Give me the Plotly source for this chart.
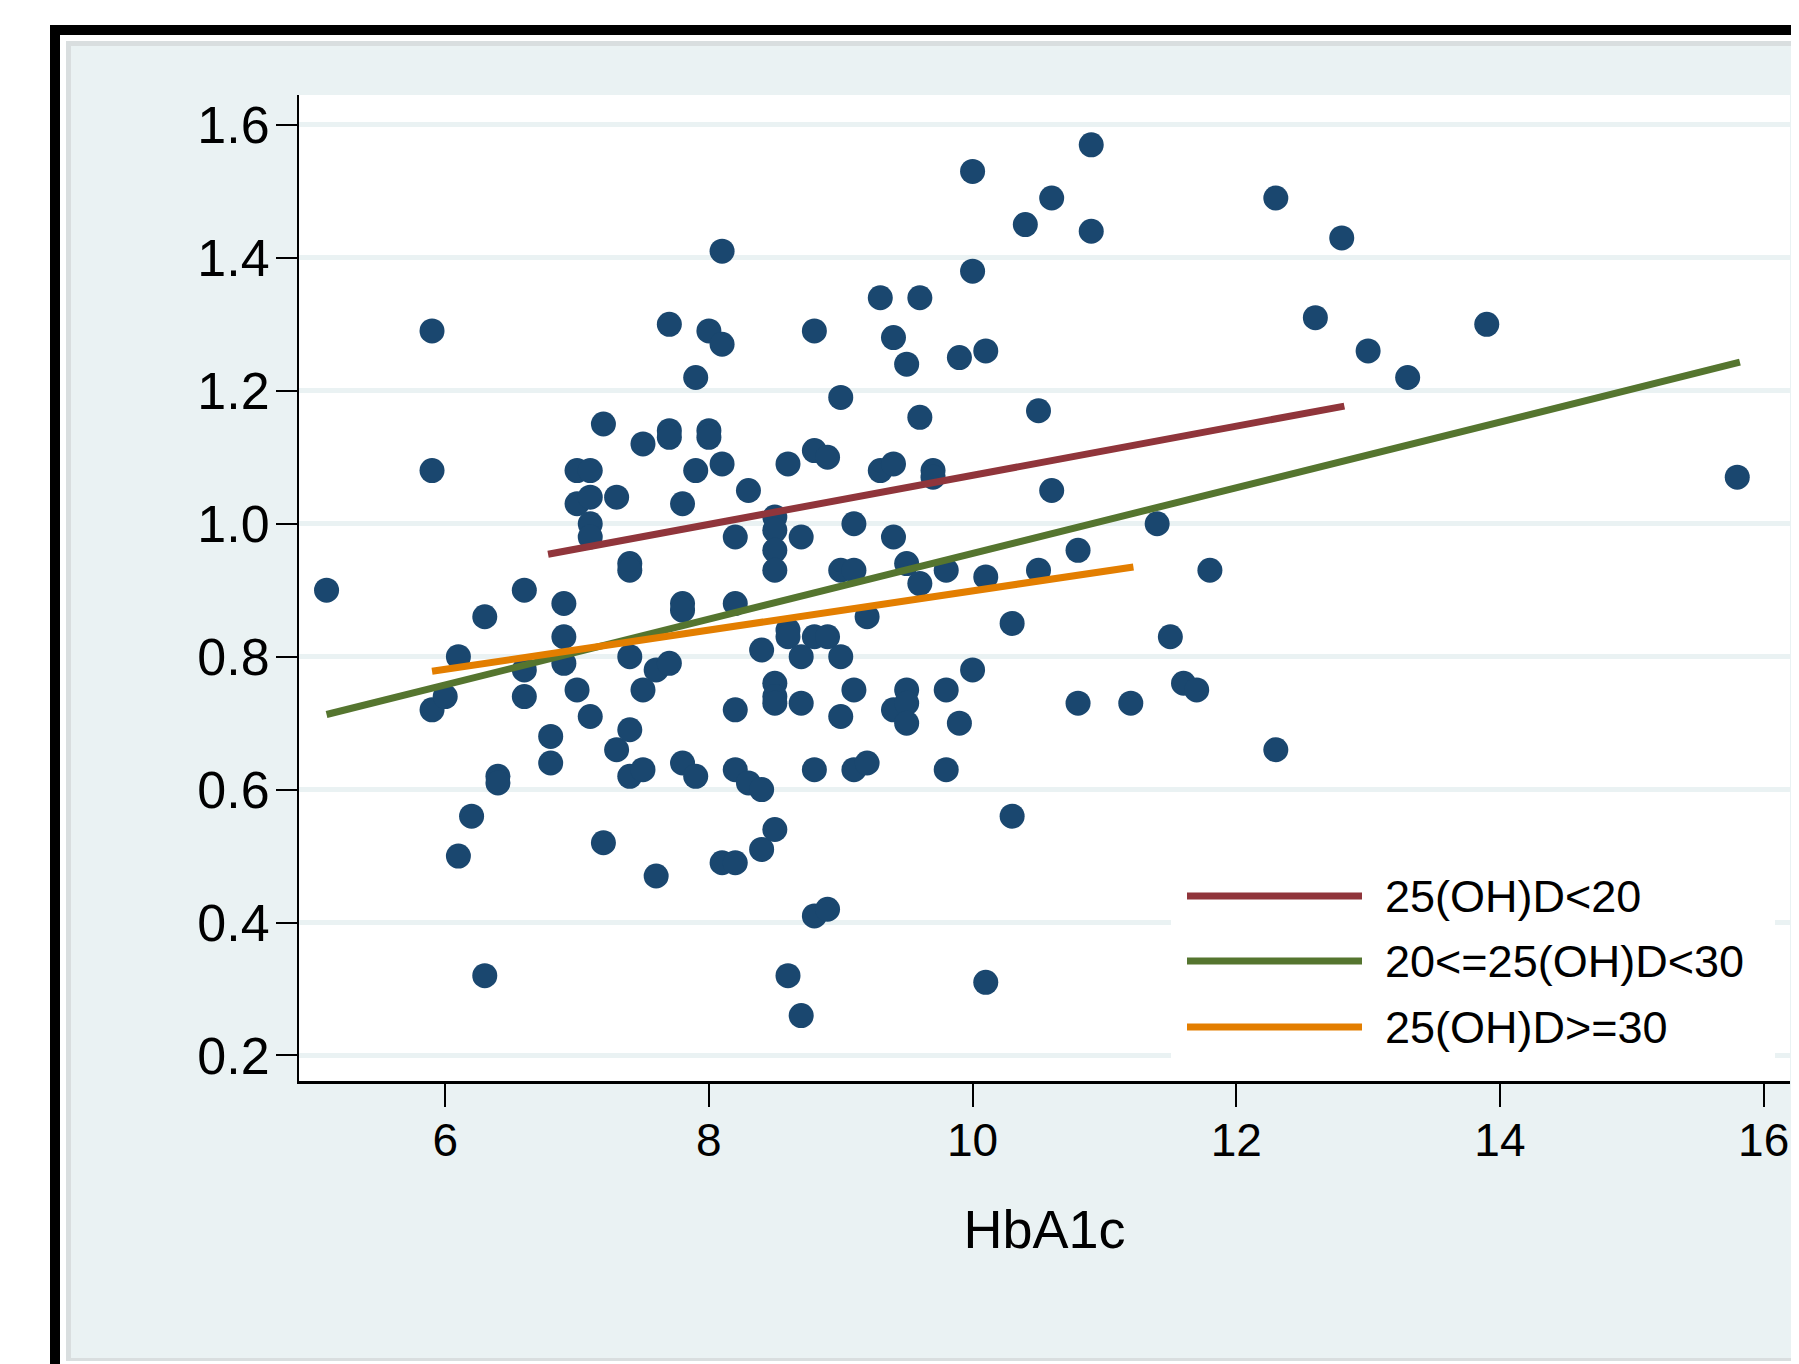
import plotly.graph_objects as go

# ---------------- data ----------------
hba1c = [5.1, 5.9, 5.9, 5.9, 6.0, 6.1, 6.1, 6.2, 6.3, 6.3, 6.4, 6.4, 6.6, 6.6, 6.6,
         6.8, 6.8, 6.9, 6.9, 6.9, 7.0, 7.0, 7.0, 7.1, 7.1, 7.1, 7.1, 7.1, 7.2, 7.2,
         7.3, 7.3, 7.4, 7.4, 7.4, 7.4, 7.4, 7.5, 7.5, 7.5, 7.6, 7.6, 7.7, 7.7, 7.7,
         7.7, 7.8, 7.8, 7.8, 7.8, 7.9, 7.9, 7.9, 8.0, 8.0, 8.0, 8.1, 8.1, 8.1, 8.1,
         8.2, 8.2, 8.2, 8.2, 8.2, 8.3, 8.3, 8.4, 8.4, 8.4, 8.5, 8.5, 8.5, 8.5, 8.5,
         8.5, 8.5, 8.5, 8.6, 8.6, 8.6, 8.6, 8.7, 8.7, 8.7, 8.7, 8.8, 8.8, 8.8, 8.8,
         8.8, 8.9, 8.9, 8.9, 9.0, 9.0, 9.0, 9.0, 9.1, 9.1, 9.1, 9.1, 9.2, 9.2, 9.3,
         9.3, 9.4, 9.4, 9.4, 9.4, 9.5, 9.5, 9.5, 9.5, 9.5, 9.6, 9.6, 9.6, 9.7, 9.7,
         9.8, 9.8, 9.8, 9.9, 9.9, 10.0, 10.0, 10.0, 10.1, 10.1, 10.1, 10.3, 10.3, 10.4,
         10.5, 10.5, 10.6, 10.6, 10.8, 10.8, 10.9, 10.9, 11.2, 11.4, 11.5, 11.6,
         11.7, 11.8, 12.3, 12.3, 12.6, 12.8, 13.0, 13.3, 13.9, 15.8]
ratio = [0.90, 1.29, 1.08, 0.72, 0.74, 0.80, 0.50, 0.56, 0.86, 0.32, 0.62, 0.61, 0.90, 0.78, 0.74,
         0.68, 0.64, 0.88, 0.83, 0.79, 0.75, 1.08, 1.03, 1.08, 1.04, 1.00, 0.98, 0.71, 1.15, 0.52,
         1.04, 0.66, 0.94, 0.93, 0.80, 0.69, 0.62, 1.12, 0.75, 0.63, 0.78, 0.47, 1.30, 1.14, 1.13,
         0.79, 1.03, 0.88, 0.87, 0.64, 1.22, 1.08, 0.62, 1.29, 1.14, 1.13, 1.41, 1.27, 1.09, 0.49,
         0.49, 0.98, 0.88, 0.72, 0.63, 1.05, 0.61, 0.60, 0.81, 0.51, 1.01, 0.99, 0.96, 0.93, 0.76,
         0.74, 0.73, 0.54, 1.09, 0.84, 0.83, 0.32, 0.98, 0.80, 0.73, 0.26, 1.29, 1.11, 0.83, 0.63,
         0.41, 1.10, 0.83, 0.42, 1.19, 0.93, 0.80, 0.71, 1.00, 0.93, 0.75, 0.63, 0.86, 0.64, 1.34,
         1.08, 1.28, 1.09, 0.98, 0.72, 1.24, 0.94, 0.75, 0.73, 0.70, 1.34, 1.16, 0.91, 1.08, 1.07,
         0.93, 0.75, 0.63, 1.25, 0.70, 1.53, 1.38, 0.78, 1.26, 0.92, 0.31, 0.85, 0.56, 1.45,
         1.17, 0.93, 1.49, 1.05, 0.96, 0.73, 1.57, 1.44, 0.73, 1.00, 0.83, 0.76,
         0.75, 0.93, 1.49, 0.66, 1.31, 1.43, 1.26, 1.22, 1.30, 1.07]

# fitted lines per vitamin D group (endpoints)
group_names = ["25(OH)D&lt;20", "20&lt;=25(OH)D&lt;30", "25(OH)D&gt;=30"]
fit_x = [[6.78, 12.82], [5.10, 15.82], [5.90, 11.22]]
fit_y = [[0.954, 1.177], [0.713, 1.243], [0.778, 0.935]]
fit_colors = ["#90353B", "#55752F", "#E37E00"]

x_ticks = [6, 8, 10, 12, 14, 16]
y_ticks = [0.2, 0.4, 0.6, 0.8, 1.0, 1.2, 1.4, 1.6]

# ---------------- geometry (page px minus the 8px body margin) ----------------
OFF = 8
W, H = 1799 - OFF, 1364 - OFF
L, R, T, B = 299 - OFF, 1790 - OFF, 95 - OFF, 1081 - OFF   # plot area
PW, PH = R - L, B - T


def px(x):
    return (x - OFF - L) / PW


def py(y):
    return (B - (y - OFF)) / PH


BLUE = "#EAF2F3"
NAVY = "#1A476F"
FONT = "Liberation Sans, Arial, sans-serif"

fig = go.Figure()

fig.add_trace(go.Scatter(
    x=hba1c, y=ratio, mode="markers",
    marker=dict(color=NAVY, size=25, line=dict(width=0)),
    showlegend=False, hoverinfo="x+y"))

for name, xs, ys, c in zip(group_names, fit_x, fit_y, fit_colors):
    fig.add_trace(go.Scatter(
        x=xs, y=ys, mode="lines", name=name,
        line=dict(color=c, width=7), showlegend=False))

shapes = []


def rect(x0, y0, x1, y1, color, layer="below"):
    shapes.append(dict(type="rect", xref="paper", yref="paper",
                       x0=px(x0), x1=px(x1), y0=py(y1), y1=py(y0),
                       fillcolor=color, line=dict(width=0), layer=layer))


# frame around the graph image (page coordinates)
rect(50, 25, 1900, 1500, "black")
rect(60, 35, 1900, 1500, "white")
rect(66, 41, 1900, 1361, "#D9DEDF")
rect(71, 46, 1900, 1358, BLUE)
rect(299, 95, 1790, 1081, "white")

# legend box and keys
annotations = []
rect(1171, 850, 1775, 1077, "white", layer="above")
leg_y = [896, 961, 1027]
for name, c, yy in zip(group_names, fit_colors, leg_y):
    shapes.append(dict(type="line", xref="paper", yref="paper",
                       x0=px(1187), x1=px(1362), y0=py(yy), y1=py(yy),
                       line=dict(color=c, width=7), layer="above"))
    annotations.append(dict(xref="paper", yref="paper", x=px(1383), y=py(yy),
                            text=name, showarrow=False, xanchor="left", yanchor="middle",
                            font=dict(family=FONT, size=45, color="black")))

fig.update_layout(
    width=W, height=H,
    margin=dict(l=L, r=W - R, t=T, b=H - B, pad=0),
    paper_bgcolor="white", plot_bgcolor="white",
    shapes=shapes, annotations=annotations,
    showlegend=False,
    font=dict(family=FONT, color="black"),
    xaxis=dict(range=[4.891, 16.2], tickvals=x_ticks, ticks="outside", ticklen=23,
               tickwidth=2, tickcolor="black", showline=True, linecolor="black",
               linewidth=3, showgrid=False, zeroline=False, ticklabelstandoff=-6,
               tickfont=dict(family=FONT, size=46, color="black"),
               title=dict(text="HbA1c", font=dict(family=FONT, size=54, color="black"),
                          standoff=45)),
    yaxis=dict(range=[0.1616, 1.645], tickvals=y_ticks, tickformat=".1f", ticks="outside",
               ticklen=21, tickwidth=2, tickcolor="black", showline=True,
               linecolor="black", linewidth=2, showgrid=True, gridcolor=BLUE,
               gridwidth=5, zeroline=False, ticklabelstandoff=-4,
               tickfont=dict(family=FONT, size=52, color="black")),
)

fig.write_html("out.html")
